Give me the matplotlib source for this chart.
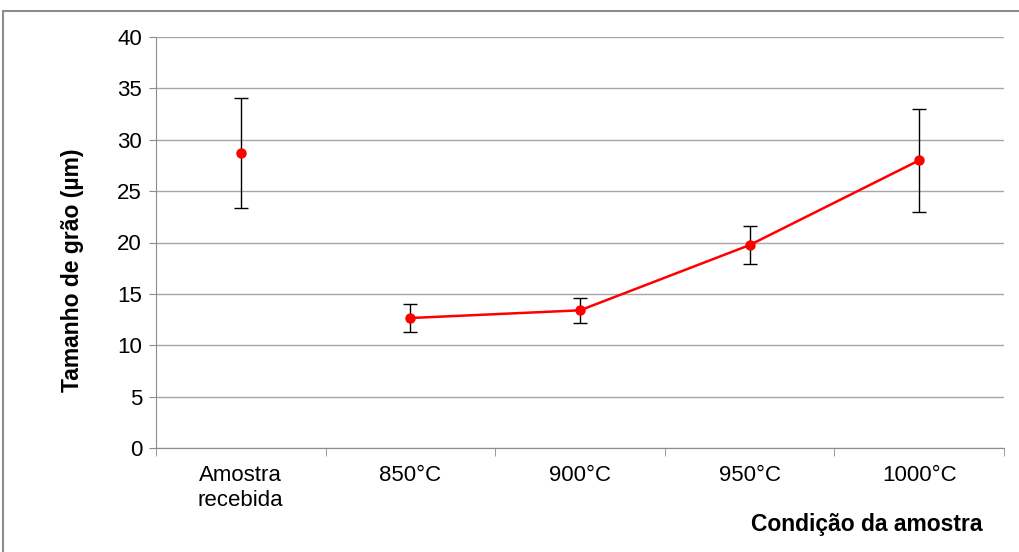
import matplotlib
matplotlib.use("Agg")
import matplotlib.pyplot as plt
import numpy as np
from matplotlib.patches import Rectangle

categories = ["Amostra\nrecebida", "850°C", "900°C", "950°C", "1000°C"]
values = [28.7, 12.65, 13.4, 19.75, 28.0]
errors = [5.35, 1.35, 1.2, 1.85, 5.0]
connected = [False, True, True, True, True]
yticks = [0, 5, 10, 15, 20, 25, 30, 35, 40]

plt.rcParams['font.family'] = ['Liberation Sans', 'DejaVu Sans']

fig = plt.figure(figsize=(10.19, 5.52), dpi=100)
ax = fig.add_axes([156/1019, 1 - 448/552, (1004-156)/1019, (448-37)/552])

# figure border
fig.patches.append(Rectangle((3/1019, -0.1), 1.2, 1 - 11/552 + 0.1, transform=fig.transFigure,
                             fill=False, edgecolor='#8c8c8c', linewidth=1.5))

x = np.arange(len(categories))
vals = np.array(values)
errs = np.array(errors)
conn = np.array(connected)

ax.errorbar(x, vals, yerr=errs, fmt='none', ecolor='black', elinewidth=1.0, capsize=5, capthick=1.0, zorder=3)
ax.plot(x[conn], vals[conn], color='#ff0000', linewidth=1.8, zorder=4)
ax.plot(x, vals, linestyle='none', marker='o', markersize=6.5, color='#ff0000', zorder=5)

ax.set_xlim(-0.5, len(categories) - 0.5)
ax.set_ylim(0, 40)
ax.set_yticks(yticks)
ax.yaxis.grid(True, color='#a6a6a6', linewidth=1.0)
ax.set_axisbelow(True)
ax.set_xticks(x)
ax.set_xticklabels(categories, fontsize=16, linespacing=1.3)
ax.tick_params(axis='x', length=0, pad=12)
ax.set_xticks(np.arange(-0.5, len(categories), 1.0), minor=True)
ax.tick_params(axis='x', which='minor', length=6, color='#8c8c8c')
ax.tick_params(axis='y', labelsize=16, length=5, color='#8c8c8c', pad=5)

for s in ['top', 'right']:
    ax.spines[s].set_visible(False)
for s in ['left', 'bottom']:
    ax.spines[s].set_color('#8c8c8c')

fig.text(72/1019, 1 - 270/552, "Tamanho de grão (µm)", rotation=90, ha='center', va='center',
         fontsize=16.5, fontweight='bold')
fig.text(867/1019, 1 - 524/552, "Condição da amostra", ha='center', va='center',
         fontsize=16.5, fontweight='bold')

fig.savefig("out.png", dpi=100)
